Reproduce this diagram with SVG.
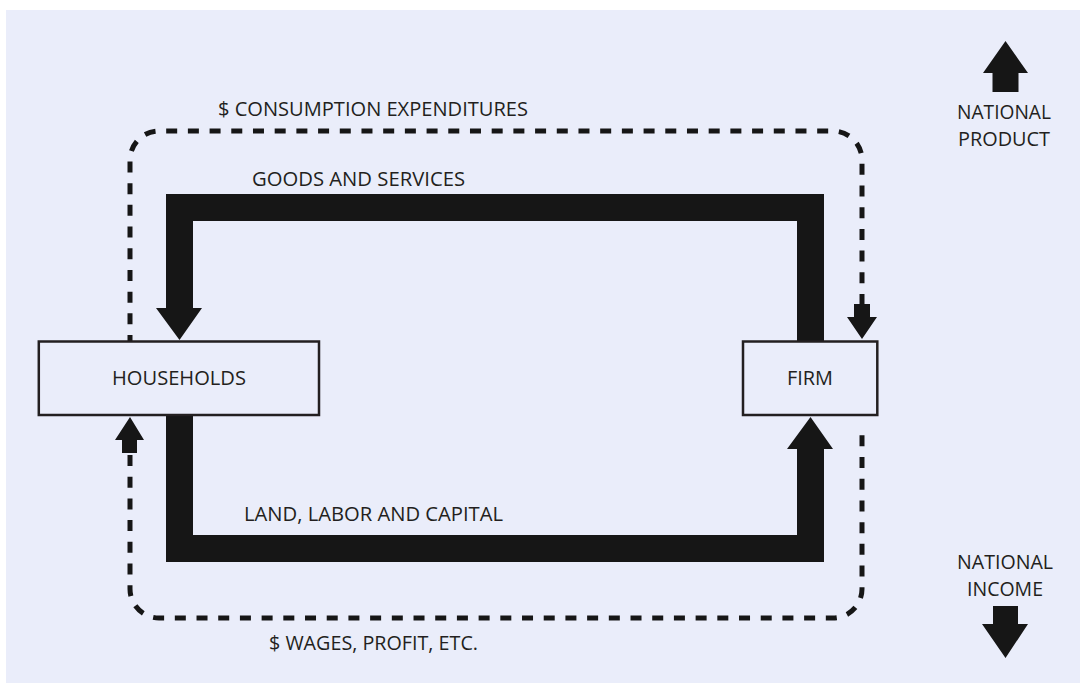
<svg xmlns="http://www.w3.org/2000/svg" width="1080" height="683" viewBox="0 0 1080 683">
  <defs>
    <style>
      .lbl { font-family: "Open Sans", "Liberation Sans", sans-serif; font-size: 20px; fill: #231f20; }
      .box { fill: #eaedfa; stroke: #231f20; stroke-width: 2.5; }
      .flow { fill: #161616; stroke: none; }
      .dash { fill: none; stroke: #161616; stroke-width: 5; stroke-dasharray: 11 10.7; }
    </style>
  </defs>
  <rect x="0" y="0" width="1080" height="683" fill="#ffffff"/>
  <rect x="6" y="10" width="1074" height="673" fill="#eaedfa"/>

  <g id="connectors">
    <g id="goods-and-services">
      <polygon class="flow" points="797,342 797,221 193,221 193,308 202,308 179.5,340 156,308 166,308 166,194 824,194 824,342"/>
      <text class="lbl" x="252" y="186" textLength="213" lengthAdjust="spacingAndGlyphs">GOODS AND SERVICES</text>
    </g>
    <g id="land-labor-capital">
      <polygon class="flow" points="166,415 166,562 824,562 824,449 833,449 810.5,417 787,449 797,449 797,535 193,535 193,415"/>
      <text class="lbl" x="244" y="521" textLength="259" lengthAdjust="spacingAndGlyphs">LAND, LABOR AND CAPITAL</text>
    </g>
    <g id="consumption-expenditures">
      <path class="dash" d="M862,305 V160 A29,29 0 0 0 833,131 H159 A29,29 0 0 0 130,160 V342"/>
      <polygon class="flow" points="854,304 870,304 870,317 877,317 862,339 847,317 854,317"/>
      <text class="lbl" x="218" y="116" textLength="310" lengthAdjust="spacingAndGlyphs">$ CONSUMPTION EXPENDITURES</text>
    </g>
    <g id="wages-profit">
      <path class="dash" d="M130,455 V589 A29,29 0 0 0 159,618 H833 A29,29 0 0 0 862,589 V425"/>
      <polygon class="flow" points="122,453 137,453 137,440 144,440 130,417 115,440 122,440"/>
      <text class="lbl" x="269" y="650" textLength="209" lengthAdjust="spacingAndGlyphs">$ WAGES, PROFIT, ETC.</text>
    </g>
  </g>

  <g id="households">
    <rect class="box" x="38.8" y="341.5" width="280.2" height="73.5"/>
    <text class="lbl" x="112" y="385" textLength="134" lengthAdjust="spacingAndGlyphs">HOUSEHOLDS</text>
  </g>

  <g id="firm">
    <rect class="box" x="743" y="341.5" width="134.3" height="73.5"/>
    <text class="lbl" x="787" y="385" textLength="46" lengthAdjust="spacingAndGlyphs">FIRM</text>
  </g>

  <g id="national-product">
    <polygon class="flow" points="1005.5,41 1028,73 1018.5,73 1018.5,92 992.5,92 992.5,73 983,73"/>
    <text class="lbl" x="1004" y="119" text-anchor="middle" textLength="94" lengthAdjust="spacingAndGlyphs">NATIONAL</text>
    <text class="lbl" x="1004" y="146" text-anchor="middle" textLength="92" lengthAdjust="spacingAndGlyphs">PRODUCT</text>
  </g>

  <g id="national-income">
    <text class="lbl" x="1005" y="569" text-anchor="middle" textLength="96" lengthAdjust="spacingAndGlyphs">NATIONAL</text>
    <text class="lbl" x="1005" y="596" text-anchor="middle" textLength="76" lengthAdjust="spacingAndGlyphs">INCOME</text>
    <polygon class="flow" points="993,606 1018,606 1018,624 1028,624 1005.5,658 982,624 993,624"/>
  </g>
</svg>
